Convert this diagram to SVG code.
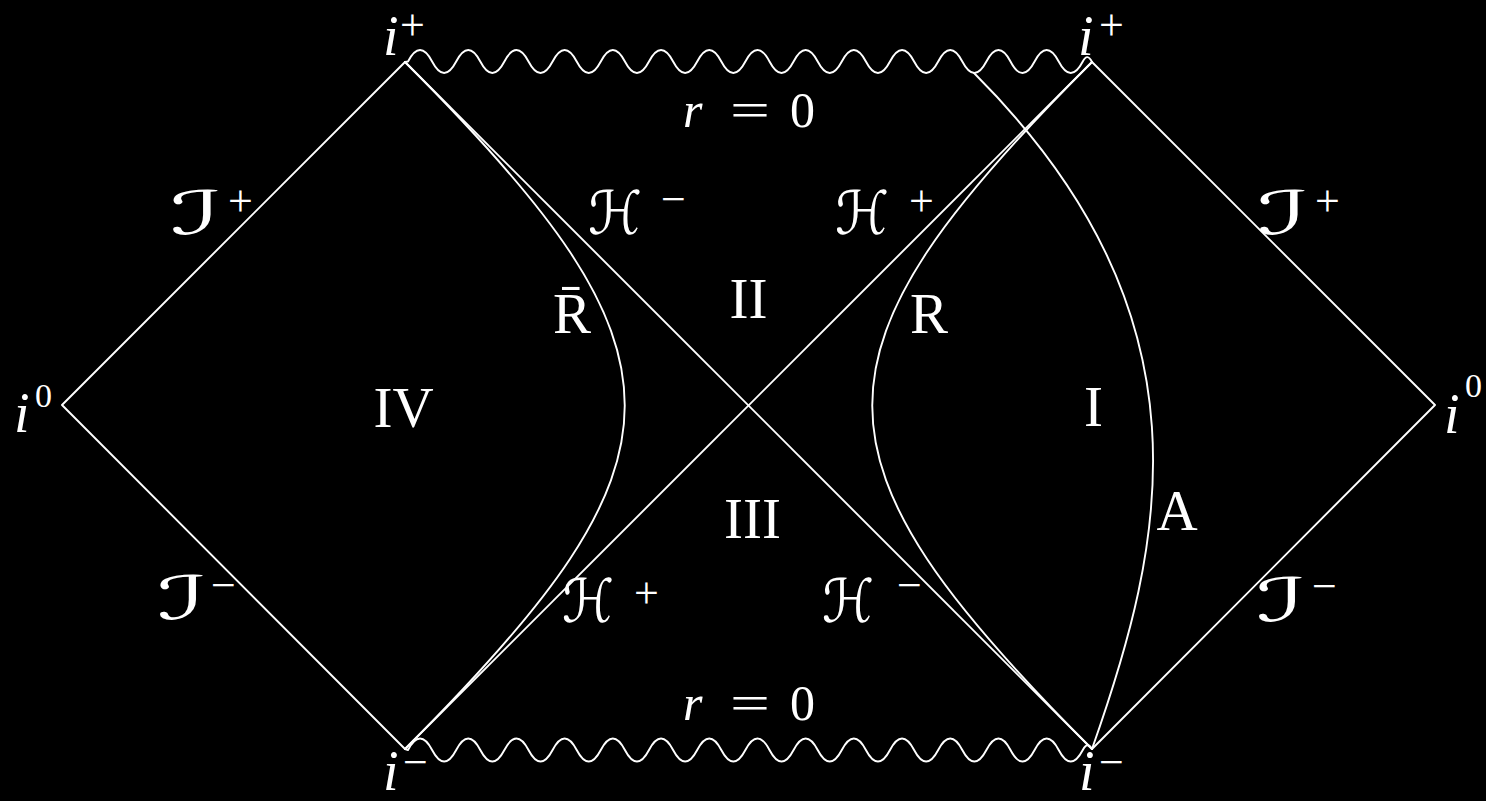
<svg xmlns="http://www.w3.org/2000/svg" width="1486" height="801" viewBox="0 0 1486 801">
<style>
.ln{fill:none;stroke:#fff;stroke-width:1.9;stroke-linejoin:round;stroke-linecap:round}
text{fill:#fff;font-family:'Liberation Serif','Times New Roman','DejaVu Serif',serif}
.rm{font-size:57px;text-anchor:middle}
.it{font-style:italic;font-size:56px}
.sup{font-size:44px}
.scr{font-size:60px;font-style:italic;font-family:'DejaVu Serif','DejaVu Sans',serif}
.eq{font-size:50px}
</style>
<rect width="1486" height="801" fill="#000"/>
<g id="connectors">
<path class="ln" d="M405,62 L62,405 L405,749"/>
<path class="ln" d="M1092,62 L1435,405 L1092,749"/>
<path class="ln" d="M405,62 L1092,749"/>
<path class="ln" d="M405,749 L1092,62"/>
<path class="ln" d="M405,62 C698,355 698,456 405,749"/>
<path class="ln" d="M1092,62 C799,355 799,456 1092,749"/>
<path class="ln" d="M974,73 C1219,318 1164,545 1092,749"/>
<path class="ln" d="M405,62 L408,61.5 q12.05,-23 24.1,0 t24.1,0 t24.1,0 t24.1,0 t24.1,0 t24.1,0 t24.1,0 t24.1,0 t24.1,0 t24.1,0 t24.1,0 t24.1,0 t24.1,0 t24.1,0 t24.1,0 t24.1,0 t24.1,0 t24.1,0 t24.1,0 t24.1,0 t24.1,0 t24.1,0 t24.1,0 t24.1,0 t24.1,0 t24.1,0 t24.1,0 t24.1,0 q4.6,-9 9.2,0.5"/>
<path class="ln" d="M405,749 L408,750 q12.05,-23 24.1,0 t24.1,0 t24.1,0 t24.1,0 t24.1,0 t24.1,0 t24.1,0 t24.1,0 t24.1,0 t24.1,0 t24.1,0 t24.1,0 t24.1,0 t24.1,0 t24.1,0 t24.1,0 t24.1,0 t24.1,0 t24.1,0 t24.1,0 t24.1,0 t24.1,0 t24.1,0 t24.1,0 t24.1,0 t24.1,0 t24.1,0 t24.1,0 q4.6,-9 9.2,-1"/>
</g>
<g id="i-plus-left"><text class="it" x="383" y="55">i</text><text class="sup" x="400" y="40">+</text></g>
<g id="i-plus-right"><text class="it" x="1078" y="55">i</text><text class="sup" x="1099" y="40">+</text></g>
<g id="i-minus-left"><text class="it" x="383" y="790">i</text><text class="sup" x="403" y="777">−</text></g>
<g id="i-minus-right"><text class="it" x="1079" y="790">i</text><text class="sup" x="1099" y="777">−</text></g>
<g id="i0-left"><text class="it" x="14" y="432">i</text><text class="sup" x="35" y="407" style="font-size:34px">0</text></g>
<g id="i0-right"><text class="it" x="1444" y="433">i</text><text class="sup" x="1465" y="397" style="font-size:34px">0</text></g>
<g id="r0-top"><text class="it" x="683" y="127" style="font-size:50px">r</text><text class="eq" x="730" y="127" textLength="40" lengthAdjust="spacingAndGlyphs">=</text><text class="eq" x="790" y="127">0</text></g>
<g id="r0-bottom"><text class="it" x="683" y="720" style="font-size:50px">r</text><text class="eq" x="730" y="720" textLength="40" lengthAdjust="spacingAndGlyphs">=</text><text class="eq" x="790" y="720">0</text></g>
<g id="region-IV"><text class="rm" x="403.5" y="427">IV</text></g>
<g id="region-II"><text class="rm" x="748.5" y="318">II</text></g>
<g id="region-III"><text class="rm" x="752.5" y="538">III</text></g>
<g id="region-I"><text class="rm" x="1093.5" y="426">I</text></g>
<g id="label-Rbar"><text class="rm" x="572" y="333">R̄</text></g>
<g id="label-R"><text class="rm" x="929" y="333">R</text></g>
<g id="label-A"><text class="rm" x="1177" y="530">A</text></g>
<g id="scri-plus-left"><text class="scr" x="170" y="234" textLength="52" lengthAdjust="spacingAndGlyphs">ℐ</text><text class="sup" x="228" y="216">+</text></g>
<g id="scri-plus-right"><text class="scr" x="1257" y="234" textLength="52" lengthAdjust="spacingAndGlyphs">ℐ</text><text class="sup" x="1315" y="216">+</text></g>
<g id="scri-minus-left"><text class="scr" x="157" y="619" textLength="50" lengthAdjust="spacingAndGlyphs">ℐ</text><text class="sup" x="211" y="600">−</text></g>
<g id="scri-minus-right"><text class="scr" x="1256" y="621" textLength="50" lengthAdjust="spacingAndGlyphs">ℐ</text><text class="sup" x="1312" y="601">−</text></g>
<g id="h-minus-top"><text class="scr" x="588" y="234" textLength="54" lengthAdjust="spacingAndGlyphs">ℋ</text><text class="sup" x="661" y="214">−</text></g>
<g id="h-plus-top"><text class="scr" x="835" y="234" textLength="54" lengthAdjust="spacingAndGlyphs">ℋ</text><text class="sup" x="909" y="216">+</text></g>
<g id="h-plus-bottom"><text class="scr" x="562" y="622" textLength="52" lengthAdjust="spacingAndGlyphs">ℋ</text><text class="sup" x="634" y="608">+</text></g>
<g id="h-minus-bottom"><text class="scr" x="822" y="622" textLength="52" lengthAdjust="spacingAndGlyphs">ℋ</text><text class="sup" x="897" y="600">−</text></g>
</svg>
